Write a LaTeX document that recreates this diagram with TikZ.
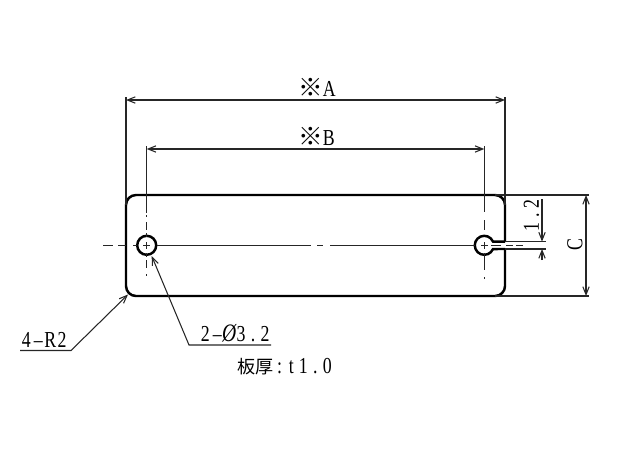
\documentclass[tikz,border=0pt]{standalone}
\usepackage{fontspec}
\setmainfont[FakeStretch=0.78]{Liberation Serif}
\newfontfamily\cjkfont{Noto Sans CJK JP}
\usetikzlibrary{arrows.meta}
\newcommand{\cellchar}[1]{\makebox[6.8pt]{#1}}
\newcommand{\cjkpart}[1]{{\fontsize{10.3pt}{12pt}\selectfont\cjkfont #1}}
\newcommand{\refmark}{{\fontsize{14pt}{14pt}\selectfont\cjkfont ※}}
\tikzset{
    thinline/.style={line width=0.6pt,draw=black!85},
    dimline/.style={thinline,{Straight Barb[length=4.5pt,width=3.6pt]}-{Straight Barb[length=4.5pt,width=3.6pt]}},
    oneline/.style={thinline,-{Straight Barb[length=4.5pt,width=3.6pt]}},
    platefont/.style={inner sep=0,font=\fontsize{13pt}{14pt}\selectfont},
}
\begin{document}
\begin{tikzpicture}[x=.02cm,y=-.02cm]
    \pgfmathsetmacro{\plateleft}{126}
    \pgfmathsetmacro{\plateright}{505}
    \pgfmathsetmacro{\platetop}{195}
    \pgfmathsetmacro{\platebottom}{296}
    \pgfmathsetmacro{\holeleft}{146.7}
    \pgfmathsetmacro{\holeright}{484.3}
    \pgfmathsetmacro{\holey}{245.3}
    \pgfmathsetmacro{\holeradius}{9.5}
    \pgfmathsetmacro{\slottop}{241.6}
    \pgfmathsetmacro{\slotbottom}{249}
    \useasboundingbox (0,0) rectangle (621,453);
    % plate outline
    \draw[line width=1.4pt,rounded corners=2mm] (\plateright,\slotbottom) -- (\plateright,\platebottom) -- (\plateleft,\platebottom) -- (\plateleft,\platetop) -- (\plateright,\platetop) -- (\plateright,\slottop);
    \draw[line width=1.4pt] (\plateright,\slottop) -- (493,\slottop) arc (-23:-337:\holeradius) -- (\plateright,\slotbottom);
    \draw[line width=1.4pt] (\holeleft,\holey) circle (\holeradius);
    % centre lines
    \draw[thinline] (103,\holey) -- (113,\holey) (118,\holey) -- (126,\holey) (133,\holey) -- (137,\holey) (143,\holey) -- (150,\holey) (157,\holey) -- (311,\holey) (317,\holey) -- (323,\holey) (330,\holey) -- (475,\holey) (481,\holey) -- (488,\holey) (491,\holey) -- (501,\holey) (506,\holey) -- (513,\holey) (516,\holey) -- (523,\holey);
    \draw[thinline] (\holeleft,146) -- (\holeleft,213) (\holeleft,215) -- (\holeleft,216.5) (\holeleft,222) -- (\holeleft,230) (\holeleft,233) -- (\holeleft,237) (\holeleft,242) -- (\holeleft,249) (\holeleft,253) -- (\holeleft,257) (\holeleft,260) -- (\holeleft,268) (\holeleft,274) -- (\holeleft,276);
    \draw[thinline] (\holeright,146) -- (\holeright,212) (\holeright,220) -- (\holeright,230) (\holeright,242) -- (\holeright,249) (\holeright,253) -- (\holeright,270) (\holeright,277) -- (\holeright,279);
    % extension lines
    \draw[thinline] (\plateleft,97) -- (\plateleft,205);
    \draw[thinline] (\plateright,97) -- (\plateright,205);
    \draw[thinline] (495,\platetop) -- (589,\platetop);
    \draw[thinline] (495,\platebottom) -- (589,\platebottom);
    \draw[thinline] (\plateright,\slottop) -- (546,\slottop);
    \draw[thinline] (\plateright,\slotbottom) -- (546,\slotbottom);
    % dimensions
    \coordinate (aleft) at (\plateleft,100);
    \coordinate (aright) at (\plateright,100);
    \coordinate (bleft) at (\holeleft,149);
    \coordinate (bright) at (\holeright,149);
    \coordinate (ctop) at (586,\platetop);
    \coordinate (cbottom) at (586,\platebottom);
    \coordinate (slotup) at (542,199);
    \coordinate (slotupend) at (542,\slottop);
    \coordinate (slotdown) at (542,260);
    \coordinate (slotdownend) at (542,\slotbottom);
    \draw[dimline] (aleft) -- (aright);
    \draw[dimline] (bleft) -- (bright);
    \draw[dimline] (ctop) -- (cbottom);
    \draw[oneline] (slotup) -- (slotupend);
    \draw[oneline] (slotdown) -- (slotdownend);
    \node[platefont,anchor=base west] (dima) at (298,96) {\refmark A};
    \node[platefont,anchor=base west] (dimb) at (298,145) {\refmark B};
    \node[platefont,rotate=90] (dimc) at (575,245) {C};
    \node[platefont,rotate=90] (dimslot) at (531.5,215.5) {\cellchar{1}\cellchar{.}\cellchar{2}};
    % leaders
    \node[platefont,anchor=base west] (radius) at (20,347) {\cellchar{4}\cellchar{–}\cellchar{R}\cellchar{2}};
    \node[platefont,anchor=base west] (holes) at (199,341) {\cellchar{2}\cellchar{–}\cellchar{\scalebox{1.1}{\itshape Ø}}\cellchar{3}\cellchar{.}\cellchar{2}};
    \node[platefont,anchor=base west] (thick) at (237,373) {\cjkpart{板厚}\cellchar{:}\cellchar{t}\cellchar{1}\cellchar{.}\cellchar{0}};
    \coordinate (radiusstart) at (20,350.5);
    \coordinate (radiusknee) at (71,350.5);
    \coordinate (radiustip) at (128,294.5);
    \coordinate (holesstart) at (271,345);
    \coordinate (holesknee) at (189,345);
    \coordinate (holestip) at (151.7,256);
    \draw[oneline] (radiusstart) -- (radiusknee) -- (radiustip);
    \draw[oneline] (holesstart) -- (holesknee) -- (holestip);
\end{tikzpicture}
\end{document}
